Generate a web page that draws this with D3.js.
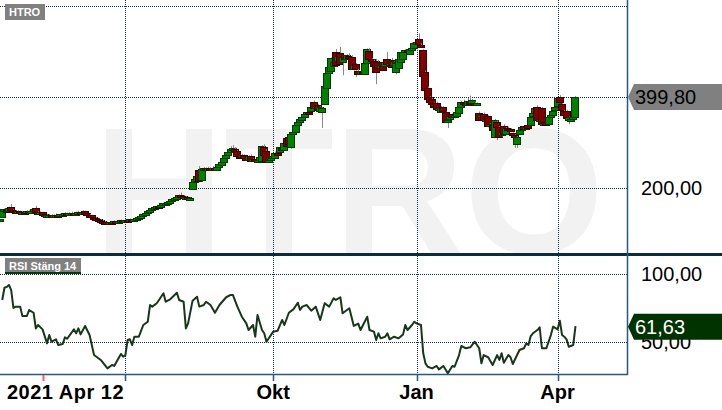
<!DOCTYPE html>
<html>
<head>
<meta charset="utf-8">
<script src="https://cdn.jsdelivr.net/npm/d3@7"></script>
<style>
  body { margin: 0; background: #fff; }
  svg { display: block; font-family: "Liberation Sans", Arial, sans-serif; }
</style>
</head>
<body>
<svg id="chart" width="722" height="410"></svg>
<script>
// HTRO daily candles, 2021-04-12 .. 2022-04-13, with RSI(14) below

// one row per trading day: [open, high, low, close]
const candles = [
  [127,132,125,131],[136,152,134,150],[150,155,148,153],[151,153,147,149],[150,159,149,157],
  [158,165,150,151],[151,153,147,149],[149,151,146,148],[147,151,146,149],[149,150,145,147],
  [147,150,146,148],[148,149,144,146],[146,151,145,149],[149,151,146,148],[148,152,147,150],
  [150,156,149,153],[156,161,146,147],[147,149,144,146],[146,149,145,147],[147,148,140,141],
  [142,143,136,138],[139,142,137,140],[140,143,139,141],[141,142,137,139],[139,142,138,140],
  [140,144,139,141],[141,142,138,140],[140,144,139,142],[142,145,141,143],[143,147,142,144],
  [144,146,141,143],[143,147,142,145],[145,148,144,146],[146,147,143,145],[145,148,144,146],
  [146,150,145,147],[147,149,144,146],[147,151,146,148],[149,150,142,143],[144,145,140,141],
  [141,143,138,139],[140,141,135,136],[136,137,132,134],[134,136,131,132],[132,133,129,130],
  [130,132,127,128],[128,129,124,126],[126,128,123,125],[125,126,122,124],[124,128,123,126],
  [126,127,123,125],[125,129,124,127],[127,128,124,126],[126,130,125,128],[128,131,127,129],
  [129,130,126,128],[128,132,127,130],[130,131,127,129],[129,133,128,131],[131,132,128,130],
  [130,134,129,132],[132,135,131,133],[133,138,132,136],[136,141,135,139],[139,144,138,142],
  [142,148,141,146],[146,152,145,150],[150,154,149,152],[152,158,151,156],[156,160,155,158],
  [158,163,157,161],[161,162,158,160],[160,165,159,163],[163,168,162,166],[166,169,165,167],
  [167,172,166,170],[170,174,169,172],[172,177,171,175],[175,180,174,178],[178,182,177,180],
  [180,186,179,184],[185,190,180,181],[182,184,176,177],[178,182,177,180],[180,181,175,176],
  [176,179,175,177],[197,215,195,213],[213,222,211,219],[215,228,213,226],[240,248,213,215],
  [216,243,214,241],[241,246,238,243],[243,245,237,240],[240,247,238,244],[244,246,240,242],
  [242,248,241,245],[245,247,238,240],[240,248,239,246],[246,254,245,252],[252,260,251,258],
  [258,268,257,266],[266,274,265,272],[272,281,271,279],[279,292,278,285],[285,294,284,288],
  [286,290,279,281],[281,283,268,270],[270,273,266,268],[268,275,267,272],[272,274,263,265],
  [265,267,260,262],[262,272,261,270],[271,274,258,260],[260,265,258,263],[263,264,256,258],
  [258,264,257,262],[262,270,261,268],[258,294,256,292],[290,296,270,272],[282,285,255,258],
  [258,264,256,262],[262,268,261,266],[266,272,265,270],[268,280,267,278],[278,282,272,274],
  [278,293,277,290],[289,292,283,285],[285,302,284,300],[310,318,290,292],[312,316,294,296],
  [290,320,286,318],[318,325,316,322],[322,340,321,338],[338,347,336,345],[345,354,344,352],
  [350,358,348,356],[356,364,355,362],[362,368,360,366],[366,368,360,364],[370,380,368,378],
  [388,392,372,374],[376,383,374,380],[382,385,368,370],[370,380,368,378],[368,378,332,376],
  [385,426,383,424],[420,455,418,452],[452,468,450,466],[456,487,454,485],[470,480,465,478],
  [498,505,468,470],[478,492,476,490],[496,510,470,472],[476,490,448,488],[488,492,482,484],
  [484,494,482,492],[490,496,484,486],[488,492,460,462],[462,472,458,470],[472,475,444,460],
  [458,462,450,452],[452,460,450,458],[455,458,450,452],[450,476,448,474],[475,507,473,505],
  [502,508,483,485],[483,486,476,478],[480,482,468,470],[480,484,428,455],[478,482,462,464],
  [464,472,462,470],[468,470,458,460],[470,480,468,478],[484,499,470,472],[472,477,470,475],
  [482,486,464,466],[470,478,468,476],[456,477,450,475],[465,486,463,484],[478,502,476,500],
  [485,503,483,500],[498,505,496,503],[503,506,498,500],[495,507,493,505],[505,520,503,508],
  [508,520,506,518],[515,522,512,520],[528,540,514,516],[515,518,510,514],[503,505,443,445],
  [455,458,413,415],[420,423,392,395],[400,402,388,390],[395,398,383,385],[386,388,376,378],
  [386,390,370,372],[372,378,370,376],[368,380,366,378],[378,380,368,370],[366,368,343,345],
  [345,352,332,350],[352,360,350,358],[362,364,353,355],[355,362,353,360],[360,370,358,368],
  [365,380,363,378],[378,392,376,390],[390,394,384,386],[386,390,382,384],[384,398,382,392],
  [390,403,384,386],[388,396,386,394],[386,390,382,384],[384,388,382,386],[365,368,348,350],
  [356,362,354,360],[362,366,346,348],[350,354,347,352],[358,360,333,335],[335,342,333,340],
  [338,342,326,328],[312,352,310,350],[345,348,305,335],[334,336,311,313],[315,324,313,322],
  [337,340,318,320],[318,334,316,332],[332,335,326,328],[330,332,324,326],[320,322,314,316],
  [316,318,288,312],[296,314,288,312],[318,329,316,327],[328,336,326,334],[336,338,328,330],
  [330,335,328,333],[338,340,330,332],[340,359,338,357],[358,367,356,365],[365,377,363,375],
  [378,382,348,350],[350,354,348,352],[375,378,338,340],[340,345,338,343],[345,347,337,339],
  [340,357,338,355],[355,362,353,360],[362,372,360,370],[372,380,370,378],[380,400,378,398],
  [400,404,388,390],[385,387,370,372],[370,372,360,362],[370,372,352,354],[350,357,340,356],
  [350,354,345,352],[352,358,350,356],[356,402,354,399.8]
];

// RSI(14), by trading-day index
const rsiDay = [1,2,3,4,5,6,7,9,10,12,13,15,16,17,19,21,22,23,25,26,28,29,30,33,34,35,36,38,40,42,
  45,48,50,51,54,55,56,57,58,59,60,62,64,66,67,68,70,71,73,74,76,79,80,82,83,84,86,88,89,91,
  92,94,96,98,101,103,104,106,108,110,111,113,114,115,117,118,119,122,124,126,127,129,131,133,134,135,137,139,141,143,
  145,147,149,150,152,153,156,158,160,161,164,165,167,168,169,170,172,173,174,176,178,180,181,182,184,185,186,188,189,190,
  191,193,195,196,198,200,202,203,205,206,208,210,212,214,215,216,218,220,222,223,224,225,227,228,229,232,234,235,236,237,
  238,240,241,242,244,246,247,249,250,251,252,253,254,256,257];
const rsiValue = [80.9,89.9,90.5,91.9,88.2,75,76,76,69.1,69.1,73.5,71.5,60,62.5,59.3,49,55.1,50.2,52,47.8,48.5,53.4,52.4,59.3,56.4,60,55.6,61.8,55.1,40.4,
  36.8,30.6,33.1,32.4,41.2,39.2,40.4,51.5,52,47.8,53.9,53.9,62.5,64.9,77.2,76,78.5,80.9,85.8,79.6,81.4,86.2,80.9,79.6,60,63.7,80.4,83.3,76,77.2,
  79.6,77.2,71.5,77.2,82.9,84.6,84.6,76,68.6,63.7,58.8,62.5,53.9,69.9,58.8,56.4,50.2,57.6,58.3,66.2,62.5,71.5,74,78.9,73.5,76,77.2,73,76,66.2,
  78.5,76,82.1,80.9,82.9,71.1,74.8,61.8,63.5,58.8,68.6,58.8,57.6,51.5,56.4,52.7,53.9,56.4,52,53.9,52.7,55.6,62.5,58.8,62.5,64.9,63.7,62.5,41.7,34.3,
  31.8,30.6,32.4,29.9,32.4,27,32.4,31.8,40.4,47.1,45.4,46.1,50.2,45.4,34.3,40.4,38.8,33.1,40.4,36.8,41.7,34.8,40.4,38.8,33.8,44.1,45.4,49,47.8,54.4,
  56.4,58.8,60.8,45.4,45.4,55.1,61.3,59.3,65.7,55.1,53.9,52,46.5,47.8,61.63];

const tickDays = [56, 122, 186, 249];          // Jul 1, Okt 1, Jan 3, Apr 1
const tickLabels = ["", "Okt", "Jan", "Apr"];
const startLabel = "2021 Apr 12";
const markerDay = 19;
const priceGrid = [200, 400, 600];
const priceTicks = [200];
const rsiGrid = [50, 100];
const rsiTicks = [100, 50];
const lastPrice = 399.80;
const lastRsi = 61.63;
const ticker = "HTRO";
const rsiName = "RSI Stäng 14";

const width = 722, plotRight = 627;
const mainBottom = 254, rsiTop = 255, rsiBottom = 374;
const gridColor = "#0f2c44";
const frameColor = "#2b5680";

const fmt = d3.formatLocale({ decimal: ",", thousands: " ", grouping: [3], currency: ["", ""] }).format(".2f");

const svg = d3.select("#chart");

const x = d3.scaleLinear().domain([0, 280]).range([0, plotRight]);
const y = d3.scaleLinear().domain([200, 400]).range([188, 97]);
const yr = d3.scaleLinear().domain([50, 100]).range([342, 274]);

const defs = svg.append("defs");
defs.append("clipPath").attr("id", "clipMain")
  .append("rect").attr("x", 0).attr("y", 0).attr("width", plotRight).attr("height", mainBottom);
defs.append("clipPath").attr("id", "clipRsi")
  .append("rect").attr("x", 0).attr("y", rsiTop).attr("width", plotRight).attr("height", rsiBottom - rsiTop);

// watermark
svg.append("g").attr("clip-path", "url(#clipMain)")
  .append("text")
  .attr("x", 94)
  .attr("y", 253)
  .style("font-size", "180px")
  .style("font-weight", "bold")
  .style("fill", "#f2f2f2")
  .text(ticker);

// grid
const grid = svg.append("g")
  .attr("stroke", gridColor)
  .attr("stroke-width", 1)
  .attr("stroke-dasharray", "1,1")
  .attr("shape-rendering", "crispEdges");

grid.selectAll(".vg")
  .data(tickDays)
  .join("line")
  .attr("x1", d => Math.round(x(d)) + 0.5)
  .attr("x2", d => Math.round(x(d)) + 0.5)
  .attr("y1", 0)
  .attr("y2", rsiBottom);

grid.selectAll(".hg")
  .data(priceGrid)
  .join("line")
  .attr("x1", 0)
  .attr("x2", plotRight)
  .attr("y1", d => Math.round(y(d)) + 0.5)
  .attr("y2", d => Math.round(y(d)) + 0.5);

grid.selectAll(".rg")
  .data(rsiGrid)
  .join("line")
  .attr("x1", 0)
  .attr("x2", plotRight)
  .attr("y1", d => Math.round(yr(d)) + 0.5)
  .attr("y2", d => Math.round(yr(d)) + 0.5);

// candles
const cg = svg.append("g").attr("clip-path", "url(#clipMain)");
const candle = cg.selectAll("g")
  .data(candles)
  .join("g");

candle.append("line")
  .attr("x1", (d, i) => Math.round(x(i)) + 0.5)
  .attr("x2", (d, i) => Math.round(x(i)) + 0.5)
  .attr("y1", d => y(d[1]))
  .attr("y2", d => y(d[2]))
  .attr("stroke", "#888")
  .attr("stroke-width", 1);

candle.append("rect")
  .attr("x", (d, i) => Math.round(x(i)) - 3.5)
  .attr("width", 7)
  .attr("y", d => Math.round(y(Math.max(d[0], d[3]))) + 0.5)
  .attr("height", d => Math.max(2, Math.round(y(Math.min(d[0], d[3])) - y(Math.max(d[0], d[3])))))
  .attr("fill", d => d[3] >= d[0] ? "#008000" : "#800000")
  .attr("stroke", d => d[3] >= d[0] ? "#003a00" : "#3a0000")
  .attr("stroke-width", 1);

// RSI line
const rsiPoints = rsiDay.map((d, i) => [d, rsiValue[i]]);
svg.append("g").attr("clip-path", "url(#clipRsi)")
  .append("path")
  .datum(rsiPoints)
  .attr("fill", "none")
  .attr("stroke", "#17361a")
  .attr("stroke-width", 2)
  .attr("stroke-linejoin", "round")
  .attr("d", d3.line().x(d => x(d[0])).y(d => yr(d[1])));

// frame
svg.append("line")
  .attr("x1", 0).attr("x2", width)
  .attr("y1", 254.5).attr("y2", 254.5)
  .attr("stroke", "#0c2b3d").attr("stroke-width", 3);
svg.append("line")
  .attr("x1", plotRight + 0.5).attr("x2", plotRight + 0.5)
  .attr("y1", 0).attr("y2", rsiBottom + 1)
  .attr("stroke", frameColor).attr("stroke-width", 1.5);
svg.append("line")
  .attr("x1", 0).attr("x2", plotRight + 1)
  .attr("y1", rsiBottom + 0.5).attr("y2", rsiBottom + 0.5)
  .attr("stroke", frameColor).attr("stroke-width", 1.5);

// bottom time axis
svg.append("g").selectAll("line")
  .data(tickDays)
  .join("line")
  .attr("x1", d => Math.round(x(d)) + 0.5)
  .attr("x2", d => Math.round(x(d)) + 0.5)
  .attr("y1", rsiBottom)
  .attr("y2", rsiBottom + 7)
  .attr("stroke", frameColor)
  .attr("stroke-width", 1.5);

svg.append("line")
  .attr("x1", Math.round(x(markerDay)) + 0.5)
  .attr("x2", Math.round(x(markerDay)) + 0.5)
  .attr("y1", rsiBottom + 1)
  .attr("y2", rsiBottom + 7)
  .attr("stroke", "#ff5a5a")
  .attr("stroke-width", 2);

svg.append("g").selectAll("text")
  .data(tickDays.filter((d, i) => tickLabels[i]))
  .join("text")
  .attr("x", d => x(d))
  .attr("y", 399)
  .attr("text-anchor", "middle")
  .style("font-size", "20px")
  .style("font-weight", "bold")
  .style("fill", "#000")
  .text(d => tickLabels[tickDays.indexOf(d)]);

svg.append("text")
  .attr("x", 7)
  .attr("y", 399)
  .style("font-size", "20px")
  .style("font-weight", "bold")
  .style("letter-spacing", "0.5px")
  .style("fill", "#000")
  .text(startLabel);

// right value axis
svg.append("g").selectAll("text")
  .data(priceTicks)
  .join("text")
  .attr("x", 641)
  .attr("y", d => y(d) + 7)
  .style("font-size", "20px")
  .style("fill", "#000")
  .text(d => fmt(d));

svg.append("g").selectAll("text")
  .data(rsiTicks)
  .join("text")
  .attr("x", 641)
  .attr("y", d => yr(d) + 7)
  .style("font-size", "20px")
  .style("fill", "#000")
  .text(d => fmt(d));

function valueTag(yPos, fill, color, label) {
  const top = yPos - 13, bot = yPos + 13;
  svg.append("path")
    .attr("d", `M${plotRight + 1},${yPos} L${plotRight + 7},${top} L${width},${top} L${width},${bot} L${plotRight + 7},${bot} Z`)
    .attr("fill", fill);
  svg.append("text")
    .attr("x", 635)
    .attr("y", yPos + 7)
    .style("font-size", "20px")
    .style("fill", color)
    .text(label);
}
valueTag(y(lastPrice), "#808080", "#000", fmt(lastPrice));
valueTag(yr(lastRsi) + 0.5, "#003300", "#fff", fmt(lastRsi));

// panel titles
function panelTag(xPos, yPos, w, label, underline) {
  svg.append("rect")
    .attr("x", xPos).attr("y", yPos).attr("width", w).attr("height", 16)
    .attr("fill", "#808080");
  if (underline) {
    svg.append("rect")
      .attr("x", xPos).attr("y", yPos + 14).attr("width", w).attr("height", 2)
      .attr("fill", underline);
  }
  svg.append("text")
    .attr("x", xPos + 4)
    .attr("y", yPos + 12)
    .style("font-size", "11px")
    .style("font-weight", "bold")
    .style("fill", "#fff")
    .text(label);
}
panelTag(5, 4, 40, ticker, null);
panelTag(5, 258, 76, rsiName, "#0b3a10");
</script>
</body>
</html>
